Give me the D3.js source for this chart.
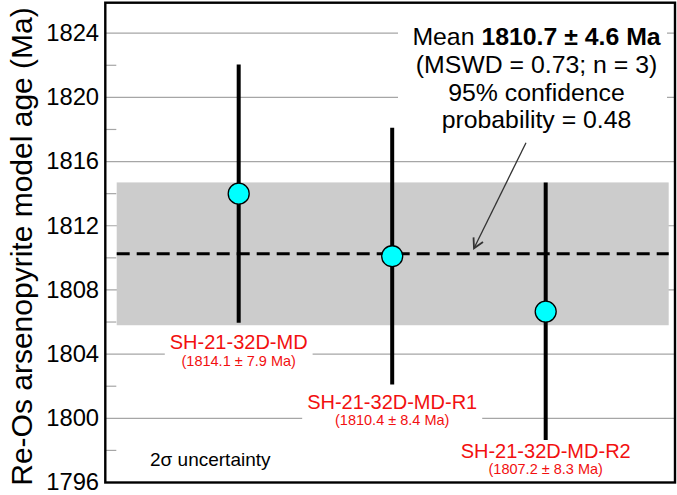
<!DOCTYPE html>
<html><head><meta charset="utf-8">
<script src="https://cdn.jsdelivr.net/npm/d3@7"></script>
<style>
html,body{margin:0;padding:0;background:#fff;}
svg{display:block;font-family:"Liberation Sans",Arial,sans-serif;}
</style></head>
<body>
<svg id="chart" width="677" height="495"></svg>
<script>
// ---- data ----
const samples = ["SH-21-32D-MD", "SH-21-32D-MD-R1", "SH-21-32D-MD-R2"];
const ageLabels = ["(1814.1 ± 7.9 Ma)", "(1810.4 ± 8.4 Ma)", "(1807.2 ± 8.3 Ma)"];
const plottedAge = [1814.0, 1810.1, 1806.65];
const upperAge = [1822.05, 1818.1, 1814.7];
const lowerAge = [1805.95, 1802.1, 1798.65];
const meanAge = 1810.25;
const meanBandLow = 1805.8;
const meanBandHigh = 1814.7;
const majorTicks = [1796, 1800, 1804, 1808, 1812, 1816, 1820, 1824];
const minorTicks = [1798, 1802, 1806, 1810, 1814, 1818, 1822];
const annotationLines = ["(MSWD = 0.73; n = 3)", "95% confidence", "probability = 0.48"];
const meanLabelPlain = "Mean ";
const meanLabelBold = "1810.7 ± 4.6 Ma";
const yTitle = "Re-Os arsenopyrite model age (Ma)";
const uncertaintyNote = "2σ uncertainty";

// ---- layout ----
const L = 105.3, R = 675, T = 2.7, B = 482.5;
const svg = d3.select("#chart");
const y = d3.scaleLinear().domain([1796, 1825.9]).range([B, T]);
const x = d3.scalePoint().domain(samples).range([L, R]).padding(0.8557).align(0.5078);

function stretch(sel, sx) {
  sel.each(function () {
    const t = d3.select(this);
    const px = +t.attr("x") || 0, py = +t.attr("y") || 0;
    t.attr("transform", `translate(${px},${py}) scale(${sx},1) translate(${-px},${-py})`);
  });
}

svg.append("rect").attr("width", 677).attr("height", 495).attr("fill", "#fff");

// gridlines
svg.append("g").selectAll("line").data(majorTicks).join("line")
  .attr("x1", L).attr("x2", R)
  .attr("y1", d => y(d)).attr("y2", d => y(d))
  .attr("stroke", "#a6a6a6").attr("stroke-width", 1.2);
svg.append("g").selectAll("line").data(minorTicks).join("line")
  .attr("x1", L).attr("x2", L + 11)
  .attr("y1", d => y(d)).attr("y2", d => y(d))
  .attr("stroke", "#a6a6a6").attr("stroke-width", 1.2);

// mean band
const bandL = L + 11.4, bandR = R - 6.3;
svg.append("rect")
  .attr("x", bandL).attr("width", bandR - bandL)
  .attr("y", y(meanBandHigh)).attr("height", y(meanBandLow) - y(meanBandHigh))
  .attr("fill", "#cccccc");
svg.append("line")
  .attr("x1", bandL).attr("x2", bandR)
  .attr("y1", y(meanAge)).attr("y2", y(meanAge))
  .attr("stroke", "#000").attr("stroke-width", 3)
  .attr("stroke-dasharray", "13,7");

// annotation white box
svg.append("rect").attr("x", 398).attr("y", 17).attr("width", 269).attr("height", 133).attr("fill", "#fff");

// sample label boxes & labels
const labelOffset = [26.6, 24, 17.7];
const labelG = svg.append("g");
samples.forEach((s, i) => {
  const cx = x(s);
  const base = y(lowerAge[i]) + labelOffset[i];
  const g = labelG.append("g");
  const box = g.append("rect").attr("fill", "#fff");
  const t1 = g.append("text").attr("x", cx).attr("y", base).attr("text-anchor", "middle")
    .attr("font-size", 20).attr("fill", "#f21010").text(s);
  const t2 = g.append("text").attr("x", cx).attr("y", base + 16.8).attr("text-anchor", "middle")
    .attr("font-size", 14.5).attr("fill", "#f21010").text(ageLabels[i]);
  const w = Math.max(t1.node().getComputedTextLength(), t2.node().getComputedTextLength()) + 10;
  box.attr("x", cx - w / 2).attr("width", w).attr("y", base - 19).attr("height", 40);
});

// error bars
svg.append("g").selectAll("line").data(samples).join("line")
  .attr("x1", d => x(d)).attr("x2", d => x(d))
  .attr("y1", (d, i) => y(upperAge[i])).attr("y2", (d, i) => y(lowerAge[i]))
  .attr("stroke", "#000").attr("stroke-width", 4);
// points
svg.append("g").selectAll("circle").data(samples).join("circle")
  .attr("cx", d => x(d)).attr("cy", (d, i) => y(plottedAge[i]))
  .attr("r", 10.5).attr("fill", "#00ffff").attr("stroke", "#000").attr("stroke-width", 1.3);

// annotation text
const ax = 536.5;
const at = svg.append("text").attr("x", ax).attr("y", 45.5).attr("text-anchor", "middle")
  .attr("font-size", 24).attr("fill", "#000");
at.append("tspan").text(meanLabelPlain);
at.append("tspan").attr("font-weight", "bold").text(meanLabelBold);
stretch(at, 1.035);
annotationLines.forEach((l, i) => {
  const t = svg.append("text").attr("x", ax).attr("y", 73.5 + i * 27.5).attr("text-anchor", "middle")
    .attr("font-size", 24).attr("fill", "#000").text(l);
  stretch(t, 1.035);
});

// arrow
const ax0 = 526, ay0 = 142.7, ax1 = 474, ay1 = y(meanAge) - 5.5;
svg.append("line").attr("x1", ax0).attr("y1", ay0).attr("x2", ax1).attr("y2", ay1)
  .attr("stroke", "#333").attr("stroke-width", 1.3);
const ang = Math.atan2(ay1 - ay0, ax1 - ax0);
const headLen = 11, spread = 0.5;
const hp = [ang + Math.PI - spread, ang + Math.PI + spread].map(a => [ax1 + headLen * Math.cos(a), ay1 + headLen * Math.sin(a)]);
svg.append("path")
  .attr("d", `M${hp[0][0]},${hp[0][1]}L${ax1},${ay1}L${hp[1][0]},${hp[1][1]}`)
  .attr("fill", "none").attr("stroke", "#333").attr("stroke-width", 1.8);

// uncertainty note
svg.append("text").attr("x", 150).attr("y", 465.7).attr("font-size", 19).attr("fill", "#000").text(uncertaintyNote);

// frame
svg.append("rect").attr("x", L).attr("y", T).attr("width", R - L).attr("height", B - T)
  .attr("fill", "none").attr("stroke", "#000").attr("stroke-width", 2.4);

// y axis labels
const yAxis = d3.axisLeft(y).tickValues(majorTicks).tickSize(0).tickPadding(6).tickFormat(d3.format("d"));
const ag = svg.append("g").attr("transform", `translate(${L},0)`).call(yAxis);
ag.select(".domain").remove();
ag.selectAll("text").attr("font-size", 23).attr("fill", "#000")
  .attr("font-family", "Liberation Sans, Arial, sans-serif")
  .attr("transform", "scale(1.035,1)");

// y title
svg.append("text").attr("transform", "translate(32,246.5) rotate(-90)")
  .attr("text-anchor", "middle").attr("font-size", 30).attr("fill", "#000").text(yTitle);
</script>
</body></html>
